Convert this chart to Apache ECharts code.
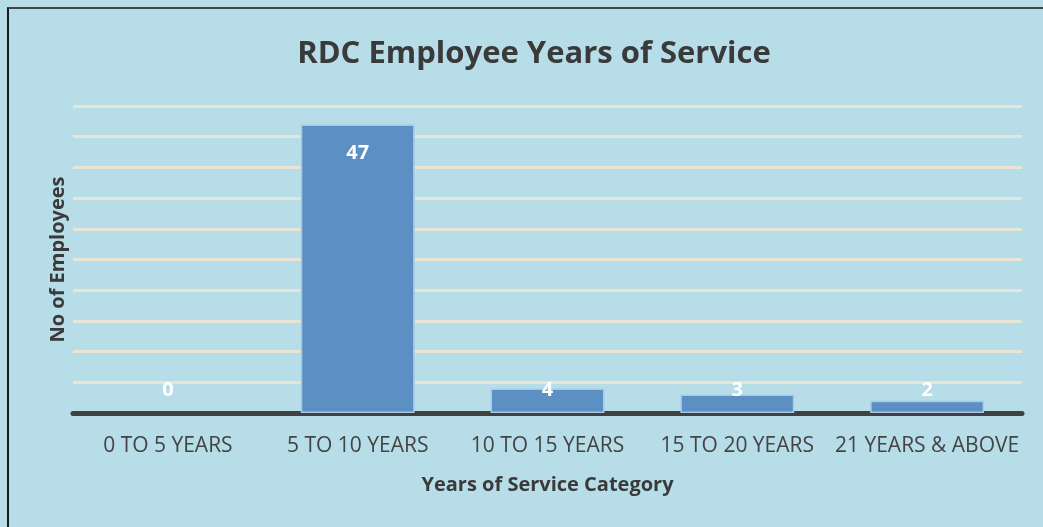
<!DOCTYPE html>
<html>
<head>
<meta charset="utf-8">
<script src="https://cdn.jsdelivr.net/npm/echarts@6/dist/echarts.min.js"></script>
<style>
html,body{margin:0;padding:0;background:#ffffff;}
#frame{position:absolute;left:7px;top:7px;width:1036px;height:520px;border-left:2px solid #1a1a1a;border-top:2px solid #454545;box-sizing:border-box;}
#chart{position:absolute;left:0;top:0;width:1043px;height:527px;}
</style>
</head>
<body>
<div id="chart"></div>
<div id="frame"></div>
<script>
const categories = ['0 TO 5 YEARS', '5 TO 10 YEARS', '10 TO 15 YEARS', '15 TO 20 YEARS', '21 YEARS & ABOVE'];
const employees = [0, 47, 4, 3, 2];
const titleText = 'RDC Employee Years of Service';
const xTitle = 'Years of Service Category';
const yTitle = 'No of Employees';

const FONT = 'Open Sans';
const chart = echarts.init(document.getElementById('chart'), null, {renderer: 'canvas'});

const barData = employees.map(v => {
  const big = v > 10;
  return {
    value: v,
    itemStyle: v === 0 ? {borderWidth: 0} : undefined,
    label: big
      ? {position: 'insideTop', distance: 19}
      : {position: 'insideBottom', distance: 13}
  };
});

chart.setOption({
  backgroundColor: '#b7dde8',
  animation: false,
  title: {
    text: titleText,
    left: 529,
    top: 34,
    textAlign: 'center',
    textStyle: {fontFamily: FONT, fontSize: 31, fontWeight: 'bold', color: '#3a3a3a'}
  },
  grid: {left: 73, right: 21, top: 106, bottom: 114, containLabel: false},
  xAxis: {
    type: 'category',
    data: categories,
    name: xTitle,
    nameLocation: 'middle',
    nameGap: 62,
    nameTextStyle: {fontFamily: FONT, fontSize: 20, fontWeight: 'bold', color: '#3a3a3a'},
    axisLine: {lineStyle: {color: '#404040', width: 5}},
    axisTick: {show: false},
    axisLabel: {fontFamily: FONT, fontSize: 21, color: '#444444', margin: 23, interval: 0}
  },
  yAxis: {
    type: 'value',
    min: 0,
    max: 50,
    interval: 5,
    name: yTitle,
    nameLocation: 'middle',
    nameGap: 5,
    nameRotate: 90,
    nameTextStyle: {fontFamily: FONT, fontSize: 20, fontWeight: 'bold', color: '#3a3a3a'},
    axisLine: {show: false},
    axisTick: {show: false},
    axisLabel: {show: false},
    splitLine: {lineStyle: {color: '#e8e5d6', width: 3}}
  },
  series: [{
    type: 'bar',
    data: barData,
    barWidth: '60%',
    itemStyle: {color: 'rgba(86,138,193,0.95)', borderColor: '#a9c9e6', borderWidth: 1.5},
    label: {
      show: true,
      color: '#ffffff',
      fontFamily: FONT,
      fontSize: 20,
      fontWeight: 'bold'
    }
  }]
});
</script>
</body>
</html>
